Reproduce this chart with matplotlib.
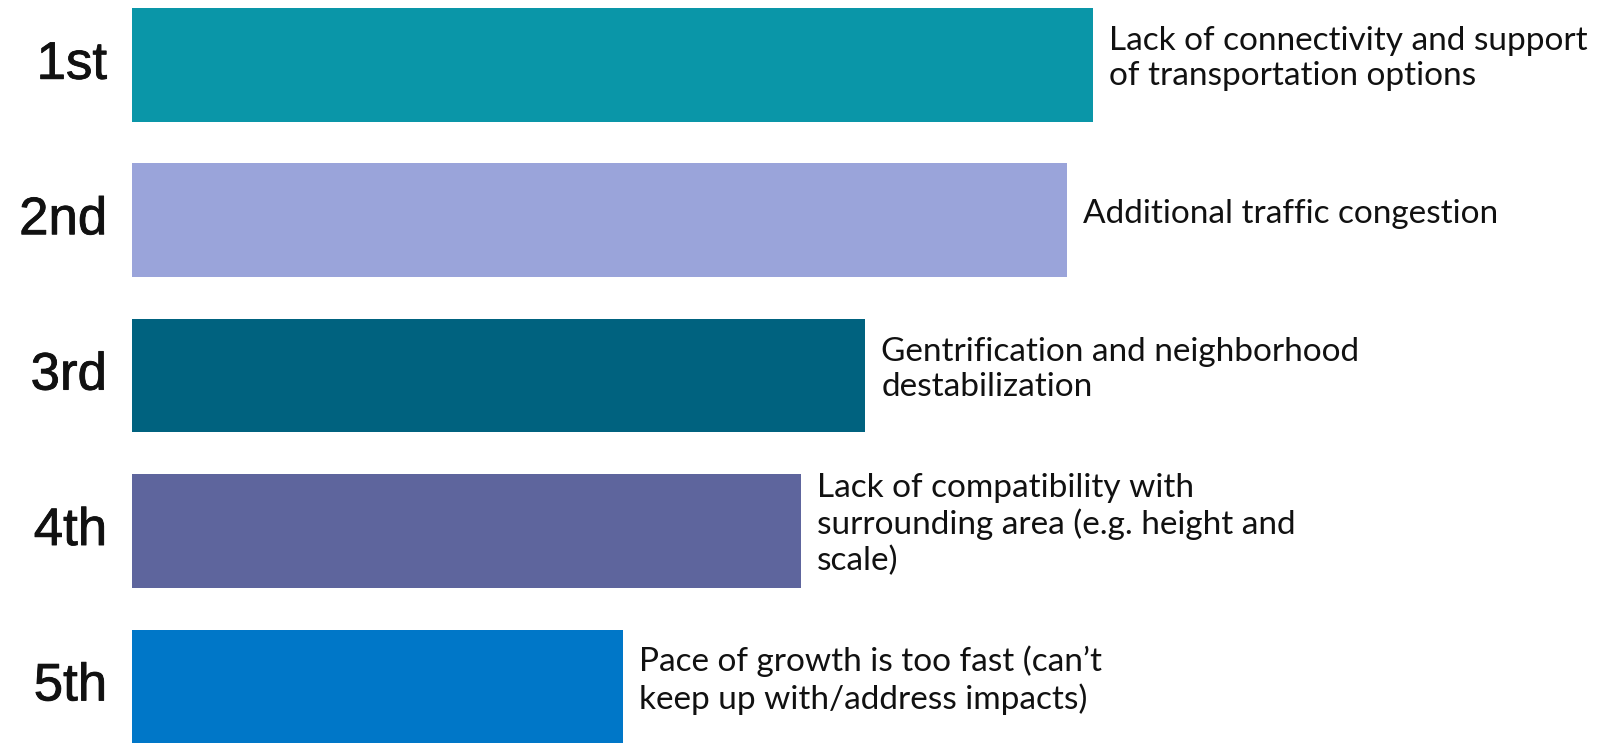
import matplotlib
matplotlib.use('Agg')
import matplotlib.pyplot as plt
import matplotlib.patheffects as pe

# ranking data (bar length, relative score)
ranks = ['1st', '2nd', '3rd', '4th', '5th']
scores = [100.0, 97.3, 76.3, 69.6, 51.1]
labels = [
    'Lack of connectivity and support\nof transportation options',
    'Additional traffic congestion',
    'Gentrification and neighborhood\ndestabilization',
    'Lack of compatibility with\nsurrounding area (e.g. height and\nscale)',
    'Pace of growth is too fast (can\u2019t\nkeep up with/address impacts)',
]
colors = ['#0A96A8', '#9AA4DA', '#00627F', '#5E659D', '#0077C8']

W, H = 1614, 743
fig = plt.figure(figsize=(W / 100, H / 100), dpi=100)
ax = fig.add_axes([132 / W, 0, 1 - 132 / W, 1])

y = list(range(len(ranks)))
ax.barh(y, scores, height=0.73, color=colors)
ax.set_xlim(0, 154.2)
ax.set_ylim(4.364, -0.417)
ax.axis('off')

for i, (s, txt) in enumerate(zip(scores, labels)):
    ax.annotate(txt, xy=(s, i), xytext=(11.5, 4.5), textcoords='offset points',
                ha='left', va='center', fontsize=24, family='Lato',
                linespacing=1.23, color='#111111')
    ax.annotate(ranks[i], xy=(0, i), xytext=(-18, 0), textcoords='offset points',
                ha='right', va='center', fontsize=38, family='Liberation Sans',
                color='#111111',
                path_effects=[pe.withStroke(linewidth=0.6, foreground='#111111')])

fig.savefig('out.png', dpi=100)
